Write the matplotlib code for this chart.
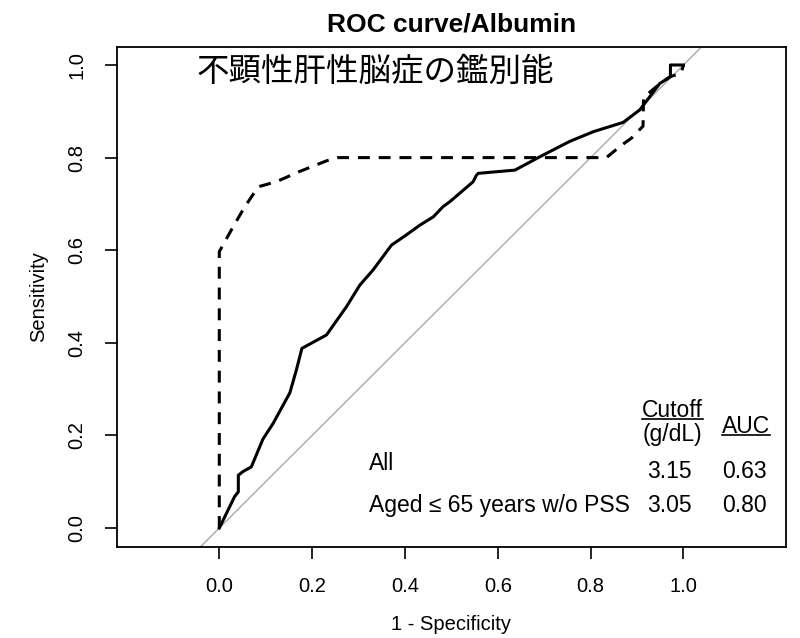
import matplotlib.pyplot as plt
from matplotlib.lines import Line2D

plt.rcParams['font.family'] = ['Liberation Sans', 'DejaVu Sans']

# ROC curve, all patients (solid)
fpr_all = [0.0, 0.033, 0.041, 0.041, 0.051, 0.069, 0.094, 0.116, 0.152, 0.166,
           0.178, 0.231, 0.274, 0.303, 0.331, 0.371, 0.403, 0.432, 0.461, 0.482,
           0.497, 0.547, 0.554, 0.558, 0.637, 0.691, 0.755, 0.806, 0.870, 0.906,
           0.949, 0.972, 0.972, 1.0]
tpr_all = [0.0, 0.068, 0.078, 0.114, 0.122, 0.132, 0.192, 0.226, 0.292, 0.341,
           0.388, 0.417, 0.478, 0.525, 0.557, 0.611, 0.633, 0.654, 0.672, 0.694,
           0.705, 0.748, 0.762, 0.766, 0.773, 0.802, 0.835, 0.856, 0.876, 0.903,
           0.960, 0.975, 1.0, 1.0]

# ROC curve, aged <= 65 years without PSS (dashed)
fpr_young = [0.0, 0.0, 0.030, 0.055, 0.084, 0.123, 0.173, 0.231, 0.256, 0.834,
             0.867, 0.888, 0.913, 0.914, 0.950, 0.972, 0.995, 1.0]
tpr_young = [0.0, 0.597, 0.651, 0.694, 0.737, 0.748, 0.770, 0.793, 0.800, 0.800,
             0.827, 0.842, 0.868, 0.930, 0.960, 0.975, 0.982, 1.0]

groups = ["All", "Aged \u2264 65 years w/o PSS"]
cutoffs = ["3.15", "3.05"]
aucs = ["0.63", "0.80"]
ticks = [0.0, 0.2, 0.4, 0.6, 0.8, 1.0]

fig = plt.figure(figsize=(8, 6.38), dpi=100)
ax = fig.add_axes([0.1459, 0.1426, 0.8366, 0.7842])

ax.axline((0, 0), (1, 1), color='#a9a9a9', lw=1)
ax.plot(fpr_all, tpr_all, color='black', lw=2.2, solid_joinstyle='round')
ax.plot(fpr_young, tpr_young, color='black', lw=2.2, dashes=(3.9, 2.9))

ax.set_xlim(-0.221, 1.221)
ax.set_ylim(-0.041, 1.0395)
ax.set_xticks(ticks)
ax.set_yticks(ticks)
ax.set_xticklabels([f"{t:.1f}" for t in ticks])
ax.set_yticklabels([f"{t:.1f}" for t in ticks], rotation=90, va='center')
ax.tick_params(direction='out', length=8.6, width=1.2, pad=13, labelsize=14.5)
for s in ax.spines.values():
    s.set_linewidth(1.3)

ax.set_xlabel("1 - Specificity", fontsize=14.5, labelpad=14)
ax.set_ylabel("Sensitivity", fontsize=14.5, labelpad=14)
ax.set_title("ROC curve/Albumin", fontsize=19, fontweight='bold', pad=11)

ax.text(-0.048, 0.985, "不顕性肝性脳症の鑑別能", fontsize=23.4,
        family=['Noto Sans CJK JP', 'DejaVu Sans'], va='center', ha='left')

# table in lower right
fs = 16.5
t_cut = ax.text(0.977, 0.2397, "Cutoff", fontsize=fs, ha='center', va='baseline')
ax.text(0.977, 0.188, "(g/dL)", fontsize=fs, ha='center', va='baseline')
t_auc = ax.text(1.135, 0.205, "AUC", fontsize=fs, ha='center', va='baseline')

label_y = [0.125, 0.0346]
value_y = [0.108, 0.0346]
for i in range(len(groups)):
    ax.text(0.3226, label_y[i], groups[i], fontsize=fs, ha='left', va='baseline')
    ax.text(0.970, value_y[i], cutoffs[i], fontsize=fs, ha='center', va='baseline')
    ax.text(1.132, value_y[i], aucs[i], fontsize=fs, ha='center', va='baseline')

# underline the column headers
fig.canvas.draw()
inv = fig.transFigure.inverted()
for t in [t_cut, t_auc]:
    bb = t.get_window_extent()
    (x0, y0), (x1, _) = inv.transform([(bb.x0, bb.y0 + 3.5), (bb.x1, bb.y0 + 3.5)])
    fig.add_artist(Line2D([x0, x1], [y0, y0], color='black', lw=1.2))

fig.savefig("out.png", dpi=100)
